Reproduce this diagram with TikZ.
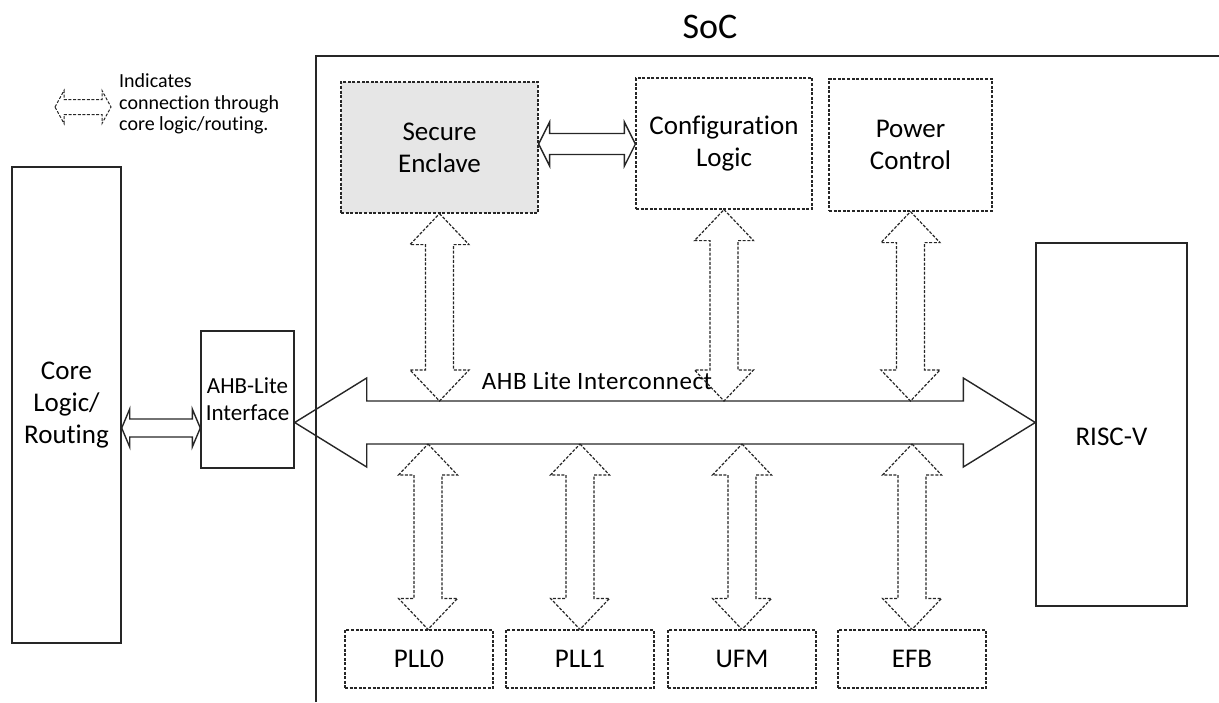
\documentclass[tikz,border=0pt]{standalone}
\usepackage{fontspec}
\setmainfont{Carlito}[Ligatures=NoCommon]
\usetikzlibrary{calc}

\definecolor{linec}{HTML}{262626}
\definecolor{enclave}{HTML}{E6E6E6}

% block double arrows: style, first tip, second tip, shaft half, head half, head length
\newcommand{\hblock}[6]{%
  \draw[#1] let \p1=(#2), \p2=(#3) in
    (\p1) -- (\x1+#6,\y1+#5) -- (\x1+#6,\y1+#4) -- (\x2-#6,\y1+#4) -- (\x2-#6,\y1+#5)
    -- (\x2,\y1) -- (\x2-#6,\y1-#5) -- (\x2-#6,\y1-#4) -- (\x1+#6,\y1-#4) -- (\x1+#6,\y1-#5) -- cycle;}
\newcommand{\vblock}[6]{%
  \draw[#1] let \p1=(#2), \p2=(#3) in
    (\p1) -- (\x1+#5,\y1-#6) -- (\x1+#4,\y1-#6) -- (\x1+#4,\y2+#6) -- (\x1+#5,\y2+#6)
    -- (\x1,\y2) -- (\x1-#5,\y2+#6) -- (\x1-#4,\y2+#6) -- (\x1-#4,\y1-#6) -- (\x1-#5,\y1-#6) -- cycle;}

\begin{document}
\begin{tikzpicture}[
    x=1pt, y=-1pt,
    blk/.style={draw=linec, line width=1.4pt, align=center, inner sep=0pt,
                font=\fontsize{27}{32}\selectfont},
    dblk/.style={blk, line width=1.2pt, dash pattern=on 3pt off 1.6pt},
    link/.style={draw=linec, line width=1.4pt, line join=miter},
    dlink/.style={link, line width=1.2pt, dash pattern=on 3pt off 1.6pt}
]
   \useasboundingbox (0,0) rectangle (1219,702);

   % SoC frame
   \draw[linec, line width=1.6pt] (316,702) -- (316,56) -- (1219,56);
   \node[font=\fontsize{36}{40}\selectfont] (soc) at (710,27) {SoC};

   % Legend
   \coordinate (keyL) at (55,107);
   \coordinate (keyR) at (111,107);
   \hblock{dlink, line width=1pt}{keyL}{keyR}{7.5pt}{16.5pt}{9pt}
   \node[anchor=west, align=left, inner sep=0pt, font=\fontsize{20}{21.5}\selectfont]
        (key) at (119,104) {Indicates\\connection through\\core logic/routing.};

   % Blocks
   \node[blk, minimum width=109pt, minimum height=476pt] (core) at (66.5,405) {Core\\Logic/\\Routing};
   \node[blk, minimum width=93pt, minimum height=137pt, font=\fontsize{23}{27}\selectfont]
        (ahb) at (247.5,399.5) {AHB-Lite\\Interface};
   \node[dblk, fill=enclave, minimum width=197pt, minimum height=131pt] (se) at (439.5,147.5) {Secure\\Enclave};
   \node[dblk, minimum width=176pt, minimum height=131pt] (cfg) at (724,143.5) {Configuration\\Logic};
   \node[dblk, minimum width=163pt, minimum height=132pt] (pwr) at (910.5,145) {Power\\Control};
   \node[blk, minimum width=151pt, minimum height=363pt] (risc) at (1111.5,424.5) {};
   \node[font=\fontsize{27}{32}\selectfont] (risclbl) at ([yshift=-12pt]risc.center) {RISC-V};
   \node[dblk, minimum width=148pt, minimum height=58pt] (pll0) at (419,659) {PLL0};
   \node[dblk, minimum width=148pt, minimum height=58pt] (pll1) at (580,659) {PLL1};
   \node[dblk, minimum width=148pt, minimum height=58pt] (ufm) at (742,659) {UFM};
   \node[dblk, minimum width=148pt, minimum height=58pt] (efb) at (912,659) {EFB};

   % Bus
   \coordinate (busc) at (660,422.5);
   \coordinate (bustop) at (660,401);
   \coordinate (busbot) at (660,444);
   \hblock{link}{ahb.east |- busc}{risc.west |- busc}{21.5pt}{44.5pt}{72pt}
   \node[font=\fontsize{25}{28}\selectfont\addfontfeatures{LetterSpace=2}] (buslbl) at (597,381) {AHB Lite Interconnect};

   % Solid links
   \coordinate (ifc) at (160,428);
   \coordinate (sec) at (587,144);
   \hblock{link}{core.east |- ifc}{ahb.west |- ifc}{9pt}{19pt}{8pt}
   \hblock{link}{se.east |- sec}{cfg.west |- sec}{10.5pt}{22pt}{11pt}

   % Dashed links to the bus
   \vblock{dlink}{se.south}{se.south |- bustop}{14pt}{29.5pt}{31pt}
   \vblock{dlink}{cfg.south}{cfg.south |- bustop}{14pt}{29.5pt}{31pt}
   \vblock{dlink}{pwr.south}{pwr.south |- bustop}{14pt}{29.5pt}{31pt}
   \vblock{dlink}{[xshift=9pt]pll0.north |- busbot}{[xshift=9pt]pll0.north}{14pt}{29.5pt}{31pt}
   \vblock{dlink}{pll1.north |- busbot}{pll1.north}{14pt}{29.5pt}{31pt}
   \vblock{dlink}{ufm.north |- busbot}{ufm.north}{14pt}{29.5pt}{31pt}
   \vblock{dlink}{efb.north |- busbot}{efb.north}{14pt}{29.5pt}{31pt}
\end{tikzpicture}
\end{document}
